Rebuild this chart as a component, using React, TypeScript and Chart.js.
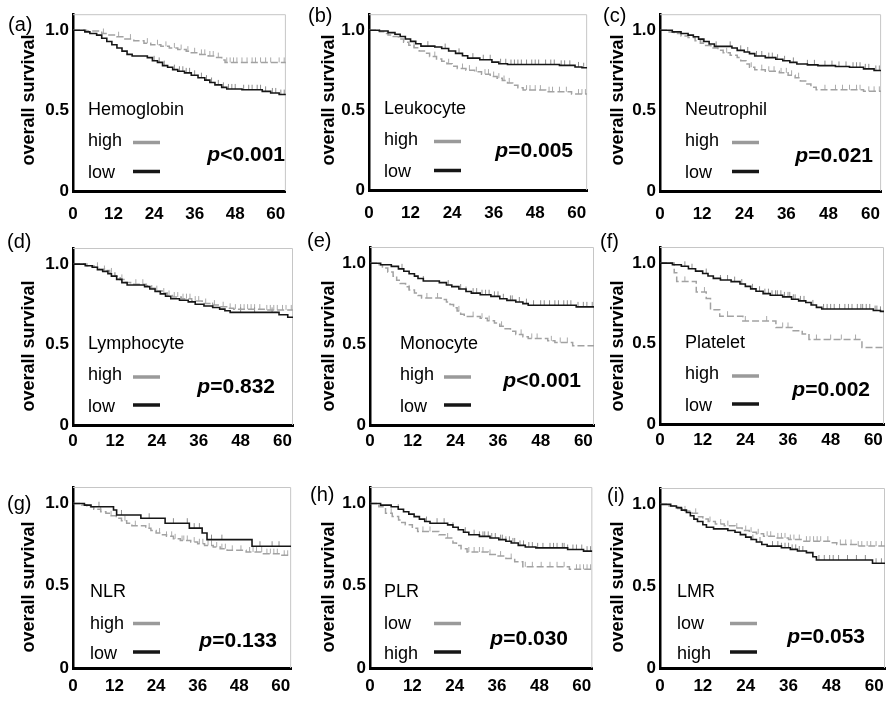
import React, { useEffect, useRef } from "react";
import { Chart, registerables } from "chart.js";

Chart.register(...registerables);

const FONT = "'Liberation Sans', Arial, Helvetica, sans-serif";
const X_TICKS = [0, 12, 24, 36, 48, 60];
const Y_TICKS = [0, 0.5, 1.0];
const Y_TICK_LABELS = ["0", "0.5", "1.0"];
const X_MAX = 63;
const Y_MAX = 1.1;
const FOLLOW_UP = 63;
const Y_TITLE = "overall survival";

// (a) Hemoglobin
const hbHighT = [0, 4, 8.5, 10, 13, 15, 18, 21, 23, 26, 28.5, 31, 33.5, 35, 37.5, 40, 42.5, 44, 45];
const hbHighS = [1, 0.995, 0.98, 0.97, 0.96, 0.945, 0.935, 0.92, 0.91, 0.9, 0.89, 0.88, 0.87, 0.86, 0.85, 0.84, 0.83, 0.815, 0.8];
const hbHighC = [9, 13.5, 17, 22, 25, 27.5, 30, 32, 34, 36, 38, 39, 40.5, 41.5, 43, 45.5, 46.5, 47.5, 48.5, 50, 51.5, 53, 54, 55.5, 57, 58.5, 61, 62.5];
const hbLowT = [0, 3.5, 5, 7, 8.5, 10, 11.5, 13, 14.5, 16, 17.5, 22, 23.5, 25, 26.5, 28, 29.5, 31, 33, 35, 37, 39, 40.5, 42, 44, 45.5, 50, 56, 58.5, 61];
const hbLowS = [1, 0.99, 0.98, 0.97, 0.95, 0.93, 0.91, 0.89, 0.87, 0.85, 0.84, 0.83, 0.81, 0.8, 0.78, 0.77, 0.755, 0.745, 0.735, 0.72, 0.705, 0.69, 0.675, 0.66, 0.645, 0.635, 0.63, 0.62, 0.61, 0.6];
const hbLowC = [24, 25.5, 27, 30, 31.5, 32.5, 33.5, 34.5, 36, 38, 39.5, 41, 43, 44.5, 46, 47, 48, 50.5, 52, 53, 54.5, 55.5, 57, 59, 60, 61.5, 62.5];

// (b) Leukocyte
const wbcHighT = [0, 3, 4.5, 5.5, 7, 8.5, 10, 11.5, 13, 14.5, 16, 17.5, 19.5, 21, 22.5, 24, 25.5, 28, 30.5, 32.5, 35, 37, 38.5, 40, 41.5, 43, 44.5, 51, 58.5];
const wbcHighS = [1, 0.99, 0.98, 0.97, 0.96, 0.945, 0.925, 0.905, 0.89, 0.87, 0.855, 0.835, 0.82, 0.805, 0.79, 0.775, 0.76, 0.75, 0.74, 0.725, 0.71, 0.7, 0.685, 0.67, 0.655, 0.64, 0.625, 0.615, 0.6];
const wbcHighC = [13, 19, 23, 27, 29, 31, 33.5, 34.5, 36, 37.5, 39, 40.5, 45.5, 46.5, 48, 49.5, 52, 53, 55, 57, 60.5, 61.5, 62.5];
const wbcLowT = [0, 3, 5.5, 7.5, 9, 10.5, 12, 13.5, 15, 19, 21, 23, 25, 27, 28.5, 32, 35.5, 37.5, 40, 55, 59.5, 61.5];
const wbcLowS = [1, 0.995, 0.985, 0.975, 0.96, 0.945, 0.93, 0.915, 0.9, 0.895, 0.885, 0.87, 0.855, 0.84, 0.825, 0.815, 0.8, 0.79, 0.785, 0.78, 0.77, 0.765];
const wbcLowC = [17, 22, 26, 30, 33, 35, 38, 39.5, 41, 42, 43, 44, 45.5, 47, 48, 49, 51, 52.5, 53.5, 55.5, 56.5, 58, 60.5, 62];

// (c) Neutrophil
const neuHighT = [0, 2, 4, 6, 8, 10, 11.5, 13, 14.5, 16.5, 18, 20, 22, 23, 24.5, 25.5, 27, 30, 34, 36.5, 38.5, 40, 41.5, 43, 44.5, 58];
const neuHighS = [1, 0.99, 0.98, 0.965, 0.955, 0.935, 0.92, 0.905, 0.89, 0.875, 0.86, 0.845, 0.83, 0.81, 0.79, 0.77, 0.755, 0.745, 0.735, 0.72, 0.705, 0.685, 0.665, 0.645, 0.63, 0.62];
const neuHighC = [12, 19, 26, 29, 31, 32.5, 34.5, 36, 37.5, 39.5, 47, 50, 52, 54, 56, 57, 59.5, 61, 62.5];
const neuLowT = [0, 3.5, 6, 8, 9.5, 11, 12.5, 14, 15.5, 20.5, 22, 24, 25.5, 27, 30, 33, 35, 37, 39, 42, 45, 50, 54, 58, 61];
const neuLowS = [1, 0.99, 0.98, 0.97, 0.96, 0.945, 0.93, 0.915, 0.9, 0.89, 0.875, 0.865, 0.855, 0.84, 0.83, 0.82, 0.81, 0.8, 0.79, 0.785, 0.78, 0.775, 0.77, 0.76, 0.75];
const neuLowC = [16, 20, 23, 25, 27.5, 29, 31, 32, 33.5, 35.5, 38, 42, 44, 47, 49, 51, 53, 55, 56, 57, 58.5, 59.5, 61.5, 62.5];

// (d) Lymphocyte
const lymHighT = [0, 4, 6, 7.5, 9, 10.5, 12, 13.5, 15, 16.5, 21, 22.5, 24, 25.5, 27, 28.5, 31, 34, 37, 39.5, 42, 44, 46, 55];
const lymHighS = [1, 0.99, 0.98, 0.97, 0.96, 0.945, 0.925, 0.905, 0.885, 0.875, 0.865, 0.85, 0.835, 0.82, 0.805, 0.795, 0.785, 0.77, 0.755, 0.745, 0.735, 0.725, 0.72, 0.715];
const lymHighC = [7, 9, 11, 14, 18, 20, 24, 26, 27.5, 29, 30, 31.5, 32.5, 33.5, 35, 36, 38, 40.5, 43, 45, 46.5, 48, 49, 50, 51, 52, 53.5, 55.5, 56.5, 57.5, 58.5, 60, 61, 62.5];
const lymLowT = [0, 3.5, 5.5, 7, 8.5, 10, 11, 12.5, 14, 15.5, 20.5, 22, 23.5, 25, 26.5, 28, 30.5, 33, 35, 37.5, 40, 42, 43.5, 45, 59, 61.5];
const lymLowS = [1, 0.99, 0.98, 0.965, 0.955, 0.94, 0.925, 0.905, 0.885, 0.87, 0.86, 0.845, 0.83, 0.815, 0.8, 0.785, 0.775, 0.765, 0.75, 0.74, 0.73, 0.72, 0.71, 0.7, 0.685, 0.67];
const lymLowC = [40, 48, 52, 57];

// (e) Monocyte
const monHighT = [0, 2, 3.5, 5, 6.5, 7.5, 8.5, 10, 11, 12.5, 13.5, 14.5, 20, 21.5, 22.5, 23.5, 24.5, 25.5, 26.5, 31, 33, 35, 36.5, 38, 39.5, 41, 43, 44.5, 50, 52, 57];
const monHighS = [1, 0.99, 0.97, 0.945, 0.92, 0.895, 0.875, 0.855, 0.835, 0.815, 0.8, 0.785, 0.775, 0.76, 0.745, 0.725, 0.705, 0.685, 0.67, 0.66, 0.645, 0.63, 0.61, 0.595, 0.58, 0.56, 0.545, 0.535, 0.52, 0.51, 0.49];
const monHighC = [11, 16, 19, 25, 29, 31.5, 33.5, 37, 42.5, 45.5, 47, 51, 53.5, 55.5];
const monLowT = [0, 3, 6, 8, 9.5, 11, 12.5, 13.5, 15, 19.5, 21.5, 23, 25, 27, 28.5, 31, 34, 36.5, 38.5, 41, 43, 44.5, 58];
const monLowS = [1, 0.99, 0.98, 0.965, 0.95, 0.935, 0.92, 0.905, 0.89, 0.88, 0.865, 0.855, 0.84, 0.825, 0.815, 0.805, 0.795, 0.78, 0.77, 0.76, 0.75, 0.74, 0.73];
const monLowC = [9, 15, 22, 25.5, 27, 29, 30, 31.5, 32.5, 33.5, 35, 36, 37.5, 39.5, 40, 42, 44, 46, 48, 49, 50.5, 52, 53, 54.5, 55.5, 56.5, 58.5, 60, 61, 62.5];

// (f) Platelet
const pltHighT = [0, 4, 4.7, 10.2, 13, 14.2, 16.8, 23.3, 32.6, 37.2, 40, 41.9, 56.8];
const pltHighS = [1, 0.94, 0.886, 0.82, 0.78, 0.71, 0.67, 0.64, 0.6, 0.58, 0.56, 0.525, 0.475];
const pltHighC = [7, 12.5, 19, 24, 30, 34.5, 36, 44, 48, 51, 55];
const pltLowT = [0, 3.5, 6, 8, 10, 12, 13.5, 15, 17, 20, 22.5, 24, 25.5, 27, 29, 31, 34.5, 37, 39, 41, 42.5, 44, 45.5, 60, 62];
const pltLowS = [1, 0.99, 0.98, 0.965, 0.95, 0.935, 0.92, 0.905, 0.895, 0.885, 0.87, 0.855, 0.84, 0.825, 0.81, 0.8, 0.79, 0.775, 0.765, 0.755, 0.74, 0.725, 0.715, 0.705, 0.7];
const pltLowC = [7, 9, 13, 17, 19, 21, 23, 26, 28, 29.5, 30.5, 31.5, 32.5, 33, 34, 35, 36, 36.5, 37.5, 38, 39.5, 40.5, 43, 46, 47, 48, 49, 50.5, 52, 53, 54, 55.5, 56.5, 57, 58, 59, 60.5, 61, 62];

// (g) NLR
const nlrHighT = [0, 2.5, 4, 6, 8, 9.5, 11, 12.5, 14, 15.5, 17, 21, 22.5, 24, 25.5, 27, 29, 31, 34, 36, 38, 40.5, 42.5, 44.5, 50, 55, 60];
const nlrHighS = [1, 0.99, 0.98, 0.965, 0.95, 0.94, 0.925, 0.91, 0.895, 0.88, 0.865, 0.85, 0.835, 0.82, 0.81, 0.8, 0.785, 0.775, 0.765, 0.755, 0.745, 0.735, 0.725, 0.715, 0.705, 0.695, 0.685];
const nlrHighC = [8, 11, 15, 18, 22, 25, 27, 28.5, 29.5, 31.5, 32, 33, 35, 36.5, 37.5, 39, 40, 41.5, 43, 44, 46, 48.5, 51, 52, 53, 54.5, 56, 57, 58, 59, 61, 62];
const nlrLowT = [0, 3.3, 5.2, 11.7, 12.6, 19.6, 26.6, 33.6, 37.3, 38.7, 51.7];
const nlrLowS = [1, 0.99, 0.98, 0.96, 0.93, 0.91, 0.88, 0.85, 0.82, 0.78, 0.74];
const nlrLowC = [7.5, 14, 22, 29, 33, 35, 36.5, 40, 43, 54, 57.5, 59.5];

// (h) PLR
const plrLowT = [0, 2.5, 4.4, 6.3, 8.1, 9, 10, 12, 13.5, 19.5, 21.5, 23.5, 24.5, 25.8, 27.5, 33.5, 35.5, 38.5, 41, 43.3, 56.5];
const plrLowS = [1, 0.98, 0.94, 0.92, 0.9, 0.885, 0.87, 0.85, 0.83, 0.81, 0.79, 0.76, 0.745, 0.725, 0.705, 0.69, 0.68, 0.665, 0.645, 0.615, 0.6];
const plrLowC = [6, 15, 17, 22, 28, 29.5, 31, 32, 34, 37, 40, 44, 46, 48.5, 51, 53, 55, 58.5, 59.5, 60.5, 61.5, 62.5];
const plrHighT = [0, 3, 6, 8, 9.5, 11, 12.5, 14, 15.5, 17, 22, 23.5, 25, 26.5, 28, 31, 34, 36.5, 38.5, 40, 42, 44, 47, 56, 60.5];
const plrHighS = [1, 0.99, 0.98, 0.965, 0.95, 0.935, 0.92, 0.905, 0.89, 0.88, 0.87, 0.855, 0.84, 0.825, 0.81, 0.8, 0.79, 0.78, 0.77, 0.76, 0.745, 0.735, 0.73, 0.72, 0.71];
const plrHighC = [8, 16, 19, 21, 23.5, 27, 29.5, 31, 32, 32.5, 33.5, 34.5, 35.5, 37, 37.5, 38.5, 39.5, 40.5, 41, 42.5, 43.5, 45, 46, 47.5, 49, 51, 52, 53, 54.5, 55, 56, 57.5, 58.5, 60, 61.5, 62.5];

// (i) LMR
const lmrLowT = [0, 2.5, 5, 7, 9, 10.5, 12, 13.5, 15.5, 18, 21, 23, 25, 27, 29, 32, 36, 40, 48, 49.5, 55];
const lmrLowS = [1, 0.99, 0.975, 0.96, 0.945, 0.925, 0.91, 0.895, 0.88, 0.87, 0.855, 0.84, 0.83, 0.82, 0.805, 0.795, 0.785, 0.775, 0.765, 0.755, 0.745];
const lmrLowC = [7, 10, 14, 17, 19, 21.5, 24, 25.5, 27.5, 30, 31, 33, 34, 35, 36.5, 37.5, 39, 41, 42, 43, 44, 45, 47, 50.5, 52, 53.5, 55.5, 56.5, 58, 59, 60.5, 62];
const lmrHighT = [0, 3, 4.6, 6, 7.4, 8.5, 9.5, 10.5, 12, 13, 15, 19, 21, 22.5, 24, 25.5, 27, 28.5, 30, 34, 36.5, 38.5, 41, 42.8, 43.8, 59.5];
const lmrHighS = [1, 0.99, 0.98, 0.965, 0.95, 0.93, 0.91, 0.895, 0.875, 0.86, 0.85, 0.84, 0.83, 0.815, 0.8, 0.785, 0.77, 0.755, 0.745, 0.735, 0.725, 0.715, 0.705, 0.68, 0.66, 0.64];
const lmrHighC = [26, 28, 31.5, 33, 34, 35, 36, 37, 38, 39, 40, 44.5, 46, 47.5, 48.5, 50, 52.5, 55, 57.5, 60.5, 62];

type Curve = { t: number[]; s: number[]; c: number[] };
type PanelDef = {
  tag: string;
  name: string;
  p: string;
  grayLabel: string;
  blackLabel: string;
  gray: Curve;
  black: Curve;
};

const PANELS: PanelDef[] = [
  { tag: "(a)", name: "Hemoglobin", p: "<0.001", grayLabel: "high", blackLabel: "low",
    gray: { t: hbHighT, s: hbHighS, c: hbHighC }, black: { t: hbLowT, s: hbLowS, c: hbLowC } },
  { tag: "(b)", name: "Leukocyte", p: "=0.005", grayLabel: "high", blackLabel: "low",
    gray: { t: wbcHighT, s: wbcHighS, c: wbcHighC }, black: { t: wbcLowT, s: wbcLowS, c: wbcLowC } },
  { tag: "(c)", name: "Neutrophil", p: "=0.021", grayLabel: "high", blackLabel: "low",
    gray: { t: neuHighT, s: neuHighS, c: neuHighC }, black: { t: neuLowT, s: neuLowS, c: neuLowC } },
  { tag: "(d)", name: "Lymphocyte", p: "=0.832", grayLabel: "high", blackLabel: "low",
    gray: { t: lymHighT, s: lymHighS, c: lymHighC }, black: { t: lymLowT, s: lymLowS, c: lymLowC } },
  { tag: "(e)", name: "Monocyte", p: "<0.001", grayLabel: "high", blackLabel: "low",
    gray: { t: monHighT, s: monHighS, c: monHighC }, black: { t: monLowT, s: monLowS, c: monLowC } },
  { tag: "(f)", name: "Platelet", p: "=0.002", grayLabel: "high", blackLabel: "low",
    gray: { t: pltHighT, s: pltHighS, c: pltHighC }, black: { t: pltLowT, s: pltLowS, c: pltLowC } },
  { tag: "(g)", name: "NLR", p: "=0.133", grayLabel: "high", blackLabel: "low",
    gray: { t: nlrHighT, s: nlrHighS, c: nlrHighC }, black: { t: nlrLowT, s: nlrLowS, c: nlrLowC } },
  { tag: "(h)", name: "PLR", p: "=0.030", grayLabel: "low", blackLabel: "high",
    gray: { t: plrLowT, s: plrLowS, c: plrLowC }, black: { t: plrHighT, s: plrHighS, c: plrHighC } },
  { tag: "(i)", name: "LMR", p: "=0.053", grayLabel: "low", blackLabel: "high",
    gray: { t: lmrLowT, s: lmrLowS, c: lmrLowC }, black: { t: lmrHighT, s: lmrHighS, c: lmrHighC } },
];

// ---- layout (pixels, page coordinates) ----
const COL_X = [0, 299, 600];
const COL_W = [299, 301, 294];
const ROW_Y = [0, 230, 460];
const ROW_H = [230, 230, 242];
// chart area per panel: left, right, top, bottom
const AREA = [
  [73, 298, 10, 191],
  [369, 598, 10, 190],
  [660, 884, 10, 191],
  [73, 298, 248, 425],
  [370, 598, 247, 425],
  [660, 884, 247, 424],
  [73, 298, 487, 668],
  [370, 598, 487, 668],
  [660, 885, 488, 668],
];
const TAG_POS = [[8, 25], [308, 16], [603, 16], [7, 242], [307, 241], [600, 242], [7, 504], [310, 495], [607, 496]];
const TITLE_X = [29.5, 329, 618];
const TITLE_Y = [100, 346, 587];
const X_TICK_PAD = [13.5, 6.5, 8.5];
const NAME_DX = [15, 15, 25, 15, 30, 25, 17, 14, 17];
const NAME_DY = [-76, -76, -71];
const LAB1_DY = [-45, -45, -39];
const LAB2_DY = [-13.5, -13, -9];
const LINE1_DY = [-48.5, -48, -44.5];
const LINE2_DY = [-19.5, -20, -16];
const LINE_DX = [60, 65, 72, 60, 74, 72, 60, 64, 70];
const LINE_LEN = 27;
const P_RIGHT = [212, 204, 213, 202, 211, 210, 204, 198, 205];
const P_DY = [-30, -33, -29, -32, -38, -28, -21, -23, -25];

const GRAY = "#a2a2a2";
const BLACK = "#161616";

function stepAt(t: number[], s: number[], x: number) {
  let v = s[0];
  for (let i = 0; i < t.length; i++) if (t[i] <= x) v = s[i];
  return v;
}
function curveData(c: Curve) {
  const pts = c.t.map((x, i) => ({ x, y: c.s[i] }));
  pts.push({ x: FOLLOW_UP, y: c.s[c.s.length - 1] });
  return pts;
}
function censorData(c: Curve) {
  return c.c.map((x) => ({ x, y: stepAt(c.t, c.s, x) }));
}

function Panel({ idx }: { idx: number }) {
  const ref = useRef<HTMLCanvasElement>(null);
  const col = idx % 3;
  const row = Math.floor(idx / 3);
  const ox = COL_X[col];
  const oy = ROW_Y[row];
  const w = COL_W[col];
  const h = ROW_H[row];

  useEffect(() => {
    const p = PANELS[idx];
    const [L, R, T, B] = AREA[idx];
    const annot = {
      id: "annot" + idx,
      beforeDatasetsDraw(chart: any) {
        const ctx = chart.ctx;
        const ca = chart.chartArea;
        ctx.save();
        ctx.strokeStyle = "#c6c6c6";
        ctx.lineWidth = 1;
        ctx.beginPath();
        ctx.moveTo(ca.left, ca.top + 0.5);
        ctx.lineTo(ca.right - 0.5, ca.top + 0.5);
        ctx.lineTo(ca.right - 0.5, ca.bottom);
        ctx.stroke();
        ctx.restore();
      },
      afterDraw(chart: any) {
        const ctx = chart.ctx;
        const ca = chart.chartArea;
        ctx.save();
        ctx.fillStyle = "#000";
        // panel tag
        ctx.font = `20px ${FONT}`;
        ctx.textAlign = "left";
        ctx.textBaseline = "middle";
        ctx.fillText(p.tag, TAG_POS[idx][0] - ox, TAG_POS[idx][1] - oy);
        // y title
        ctx.save();
        ctx.translate(TITLE_X[col] - ox, TITLE_Y[row] - oy);
        ctx.rotate(-Math.PI / 2);
        ctx.font = `bold 18px ${FONT}`;
        ctx.textAlign = "center";
        ctx.textBaseline = "middle";
        ctx.fillText(Y_TITLE, 0, 0);
        ctx.restore();
        // name & legend
        const nx = ca.left + NAME_DX[idx];
        ctx.font = `18px ${FONT}`;
        ctx.textAlign = "left";
        ctx.textBaseline = "alphabetic";
        ctx.fillText(p.name, nx, ca.bottom + NAME_DY[row]);
        ctx.fillText(p.grayLabel, nx, ca.bottom + LAB1_DY[row]);
        ctx.fillText(p.blackLabel, nx, ca.bottom + LAB2_DY[row]);
        ctx.lineWidth = 3.5;
        ctx.strokeStyle = "#9a9a9a";
        ctx.beginPath();
        ctx.moveTo(ca.left + LINE_DX[idx], ca.bottom + LINE1_DY[row]);
        ctx.lineTo(ca.left + LINE_DX[idx] + LINE_LEN, ca.bottom + LINE1_DY[row]);
        ctx.stroke();
        ctx.strokeStyle = BLACK;
        ctx.beginPath();
        ctx.moveTo(ca.left + LINE_DX[idx], ca.bottom + LINE2_DY[row]);
        ctx.lineTo(ca.left + LINE_DX[idx] + LINE_LEN, ca.bottom + LINE2_DY[row]);
        ctx.stroke();
        // p value
        const right = ca.left + P_RIGHT[idx];
        const py = ca.bottom + P_DY[idx];
        ctx.font = `bold 21px ${FONT}`;
        const restW = ctx.measureText(p.p).width;
        ctx.fillText(p.p, right - restW, py);
        ctx.font = `italic bold 21px ${FONT}`;
        const pw = ctx.measureText("p").width;
        ctx.fillText("p", right - restW - pw, py);
        ctx.restore();
      },
    };

    const chart = new Chart(ref.current as HTMLCanvasElement, {
      type: "line",
      data: {
        datasets: [
          {
            data: curveData(p.black),
            borderColor: BLACK,
            borderWidth: 1.6,
            stepped: true,
            pointRadius: 0,
            fill: false,
          },
          {
            data: curveData(p.gray),
            borderColor: GRAY,
            borderWidth: 1.5,
            borderDash: [7, 3],
            stepped: true,
            pointRadius: 0,
            fill: false,
          },
          {
            data: censorData(p.black),
            showLine: false,
            pointStyle: "dash",
            rotation: -90,
            pointRadius: 5,
            pointBorderWidth: 1,
            pointBorderColor: "#8c8c8c",
            pointBackgroundColor: "#8c8c8c",
          },
          {
            data: censorData(p.gray),
            showLine: false,
            pointStyle: "dash",
            rotation: -90,
            pointRadius: 5,
            pointBorderWidth: 1,
            pointBorderColor: "#ababab",
            pointBackgroundColor: "#ababab",
          },
        ] as any,
      },
      options: {
        animation: false,
        responsive: false,
        maintainAspectRatio: false,
        events: [],
        layout: { padding: { left: 0, top: T - oy, right: ox + w - R, bottom: 0 } },
        plugins: { legend: { display: false }, tooltip: { enabled: false } },
        scales: {
          x: {
            type: "linear",
            min: 0,
            max: X_MAX,
            afterBuildTicks: (a: any) => {
              a.ticks = X_TICKS.map((v) => ({ value: v }));
            },
            afterFit: (s: any) => {
              s.height = oy + h - B;
            },
            grid: { display: false, drawTicks: false },
            border: { display: true, color: "#000", width: 3 },
            ticks: {
              font: { family: FONT, size: 17, weight: "bold" },
              color: "#000",
              padding: X_TICK_PAD[row],
              maxRotation: 0,
              autoSkip: false,
            },
          },
          y: {
            type: "linear",
            min: 0,
            max: Y_MAX,
            afterBuildTicks: (a: any) => {
              a.ticks = Y_TICKS.map((v) => ({ value: v }));
            },
            afterFit: (s: any) => {
              s.width = L - ox;
            },
            grid: { display: false, drawTicks: false },
            border: { display: true, color: "#000", width: 2.5 },
            ticks: {
              font: { family: FONT, size: 17, weight: "bold" },
              color: "#000",
              padding: 4,
              autoSkip: false,
              callback: (v: any) => {
                const i = Y_TICKS.indexOf(Number(v));
                return i >= 0 ? Y_TICK_LABELS[i] : "";
              },
            },
          },
        },
      } as any,
      plugins: [annot],
    });
    return () => chart.destroy();
  }, [idx]);

  return (
    <canvas
      ref={ref}
      width={w}
      height={h}
      style={{ position: "absolute", left: ox, top: oy, width: w, height: h }}
    />
  );
}

export default function App() {
  return (
    <div style={{ position: "absolute", left: 0, top: 0, width: 894, height: 702, background: "#fff" }}>
      {PANELS.map((_, i) => (
        <Panel key={i} idx={i} />
      ))}
    </div>
  );
}
